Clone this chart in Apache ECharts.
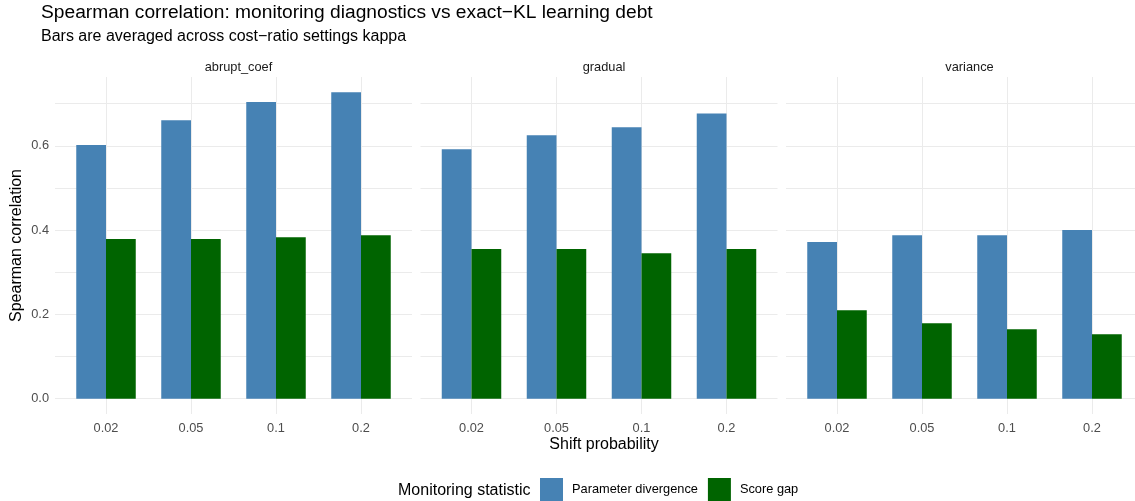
<!DOCTYPE html>
<html>
<head>
<meta charset="utf-8">
<script src="https://cdn.jsdelivr.net/npm/echarts@6/dist/echarts.min.js"></script>
<style>
  html, body { margin: 0; padding: 0; background: #ffffff; }
  #chart { width: 1135px; height: 501px; }
</style>
</head>
<body>
<div id="chart"></div>
<script>
// Shift-probability categories and panel (shift type) names
const shiftProbs = ['0.02', '0.05', '0.1', '0.2'];
const panels = ['abrupt_coef', 'gradual', 'variance'];
const statNames = ['Parameter divergence', 'Score gap'];

// Mean Spearman correlation per panel, one value per shift probability
const paramDivergence = {
  abrupt_coef: [0.602, 0.661, 0.704, 0.727],
  gradual:     [0.592, 0.625, 0.644, 0.677],
  variance:    [0.372, 0.388, 0.388, 0.400]
};
const scoreGap = {
  abrupt_coef: [0.379, 0.379, 0.383, 0.388],
  gradual:     [0.355, 0.355, 0.345, 0.355],
  variance:    [0.210, 0.179, 0.165, 0.153]
};

// Axis tick values
const yGridValues = [0, 0.1, 0.2, 0.3, 0.4, 0.5, 0.6, 0.7];
const yLabelValues = [0, 0.2, 0.4, 0.6];

const FONT = '"Liberation Sans", Arial, sans-serif';
const COLORS = ['#4682B4', '#006400'];
const GRID_COLOR = '#EBEBEB';
const BASE = 16;            // base text size
const SMALL = BASE * 0.8;   // tick, strip and legend-key text

// Shared y range: 0 up to the largest bar, padded 5% on both ends
const allVals = panels.flatMap(p => paramDivergence[p].concat(scoreGap[p]));
const yMax = Math.max(...allVals);
const yPad = yMax * 0.05;

// Panel geometry: each category band is 85px, panels padded 0.6 band on each side
const CANVAS_W = 1135;
const panelLeft = [55, 420.5, 786];
const panelWidth = 357;
const panelTop = 77;
const panelHeight = 337;
const bandPx = panelWidth / (shiftProbs.length - 1 + 1.2);

const grids = [], xAxes = [], yAxes = [], series = [];
panels.forEach((p, k) => {
  // the last panel runs past the canvas edge; trim its range so the scale stays the same
  const visibleW = Math.min(panelWidth, CANVAS_W - panelLeft[k]);
  const xMax = shiftProbs.length - 1 + 0.6 - (panelWidth - visibleW) / bandPx;
  grids.push({ left: panelLeft[k], top: panelTop, width: visibleW, height: panelHeight });
  xAxes.push({
    type: 'value', gridIndex: k, min: -0.6, max: xMax,
    axisLine: { show: false },
    axisTick: { show: false, customValues: shiftProbs.map((_, i) => i) },
    axisLabel: {
      customValues: shiftProbs.map((_, i) => i),
      formatter: v => shiftProbs[Math.round(v)],
      color: '#4D4D4D', fontFamily: FONT, fontSize: SMALL, margin: 8
    },
    splitLine: { show: true, lineStyle: { color: GRID_COLOR, width: 1 } }
  });
  yAxes.push({
    type: 'value', gridIndex: k, min: -yPad, max: yMax + yPad,
    axisLine: { show: false },
    axisTick: { show: false, customValues: yGridValues },
    axisLabel: {
      show: k === 0,
      customValues: yLabelValues,
      formatter: v => v.toFixed(1),
      color: '#4D4D4D', fontFamily: FONT, fontSize: SMALL, margin: 6
    },
    splitLine: { show: true, lineStyle: { color: GRID_COLOR, width: 1 } }
  });
  [paramDivergence, scoreGap].forEach((src, s) => {
    series.push({
      type: 'bar', name: statNames[s], xAxisIndex: k, yAxisIndex: k,
      data: src[p].map((v, i) => [i, v]),
      barWidth: bandPx * 0.35, barGap: '0%',
      itemStyle: { color: COLORS[s] },
      emphasis: { disabled: true },
      silent: true
    });
  });
});

const stripTitles = panels.map((p, k) => ({
  text: p, left: panelLeft[k] + panelWidth / 2, top: 56, textAlign: 'center',
  textStyle: { fontFamily: FONT, fontSize: SMALL, fontWeight: 'normal', color: '#1A1A1A' }
}));

const option = {
  animation: false,
  backgroundColor: '#ffffff',
  title: [
    { text: 'Spearman correlation: monitoring diagnostics vs exact\u2212KL learning debt',
      left: 36, top: -2,
      textStyle: { fontFamily: FONT, fontSize: BASE * 1.2, fontWeight: 'normal', color: '#000000' } },
    { text: 'Bars are averaged across cost\u2212ratio settings kappa',
      left: 36, top: 24,
      textStyle: { fontFamily: FONT, fontSize: BASE, fontWeight: 'normal', color: '#000000' } },
    ...stripTitles,
    { text: 'Shift probability', left: (panelLeft[0] + panelLeft[2] + panelWidth) / 2, top: 432,
      textAlign: 'center',
      textStyle: { fontFamily: FONT, fontSize: BASE, fontWeight: 'normal', color: '#000000' } },
    { text: 'Monitoring statistic', left: 393, top: 478,
      textStyle: { fontFamily: FONT, fontSize: BASE, fontWeight: 'normal', color: '#000000' } }
  ],
  legend: {
    data: statNames, left: 535, top: 473, icon: 'rect',
    itemWidth: 23, itemHeight: 23, itemGap: 10,
    selectedMode: false,
    textStyle: { fontFamily: FONT, fontSize: SMALL, color: '#000000', padding: [2, 0, 0, 4] }
  },
  graphic: [{
    type: 'text', x: 17, y: panelTop + panelHeight / 2, rotation: Math.PI / 2,
    style: { text: 'Spearman correlation', fontFamily: FONT, fontSize: BASE, fill: '#000000',
             textAlign: 'center', textVerticalAlign: 'middle' }
  }],
  grid: grids, xAxis: xAxes, yAxis: yAxes, series: series
};

const chart = echarts.init(document.getElementById('chart'), null, { renderer: 'canvas' });
chart.setOption(option);
</script>
</body>
</html>
